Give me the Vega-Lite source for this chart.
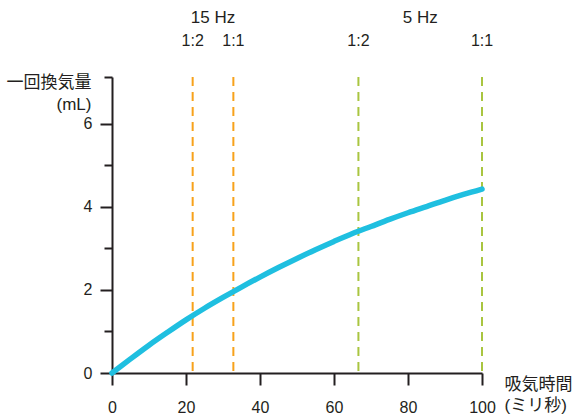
{
  "$schema": "https://vega.github.io/schema/vega-lite/v6.json",
  "width": 370,
  "height": 296,
  "autosize": {"type": "none"},
  "padding": {"left": 112, "top": 77, "right": 91, "bottom": 41},
  "background": "white",
  "config": {
    "view": {"stroke": null},
    "font": "Liberation Sans, Noto Sans CJK JP",
    "axis": {"grid": false}
  },
  "datasets": {
    "curve": [
      {"t": 0, "v": 0}, {"t": 5, "v": 0.34}, {"t": 10, "v": 0.67}, {"t": 15, "v": 0.98},
      {"t": 20, "v": 1.28}, {"t": 25, "v": 1.56}, {"t": 30, "v": 1.82}, {"t": 35, "v": 2.07},
      {"t": 40, "v": 2.31}, {"t": 45, "v": 2.54}, {"t": 50, "v": 2.76}, {"t": 55, "v": 2.97},
      {"t": 60, "v": 3.17}, {"t": 65, "v": 3.36}, {"t": 70, "v": 3.53}, {"t": 75, "v": 3.7},
      {"t": 80, "v": 3.86}, {"t": 85, "v": 4.01}, {"t": 90, "v": 4.16}, {"t": 95, "v": 4.3},
      {"t": 100, "v": 4.43}
    ],
    "lines": [
      {"t": 21.8, "freq": "15 Hz", "ratio": "1:2"},
      {"t": 32.8, "freq": "15 Hz", "ratio": "1:1"},
      {"t": 66.6, "freq": "5 Hz", "ratio": "1:2"},
      {"t": 100, "freq": "5 Hz", "ratio": "1:1"}
    ]
  },
  "layer": [
    {
      "data": {"name": "lines"},
      "mark": {"type": "rule", "strokeWidth": 2, "strokeDash": [9, 6]},
      "encoding": {
        "x": {"field": "t", "type": "quantitative", "scale": {"domain": [0, 100], "nice": false}},
        "color": {"field": "freq", "type": "nominal", "scale": {"domain": ["15 Hz", "5 Hz"], "range": ["#F7A21B", "#A9C540"]}, "legend": null}
      }
    },
    {
      "data": {"name": "curve"},
      "mark": {"type": "line", "color": "#1FBFE0", "strokeWidth": 5.5, "interpolate": "monotone", "strokeCap": "round"},
      "encoding": {
        "x": {
          "field": "t", "type": "quantitative",
          "scale": {"domain": [0, 100], "nice": false},
          "axis": {
            "values": [0, 20, 40, 60, 80, 100],
            "title": ["吸気時間", "(ミリ秒)"],
            "titleFontSize": 17, "titleFontWeight": "normal", "titleColor": "#231F20",
            "titleAlign": "left", "titleBaseline": "middle", "titleAnchor": "start",
            "titleX": 392, "titleY": 11, "titleLineHeight": 21,
            "domainColor": "#231F20", "domainWidth": 2,
            "tickColor": "#231F20", "tickWidth": 2, "tickSize": 12,
            "labelFontSize": 16, "labelColor": "#231F20", "labelPadding": 14, "labelFlush": false
          }
        },
        "y": {
          "field": "v", "type": "quantitative",
          "scale": {"domain": [0, 7.13], "nice": false, "zero": true},
          "axis": {
            "values": [0, 1, 2, 3, 4, 5, 6, 7.13],
            "labelExpr": "datum.value % 2 === 0 ? datum.label : ''",
            "title": ["一回換気量", "(mL)"],
            "titleFontSize": 17, "titleFontWeight": "normal", "titleColor": "#231F20",
            "titleAngle": 0, "titleAlign": "right", "titleBaseline": "middle",
            "titleX": -21, "titleY": 5, "titleLineHeight": 22,
            "domainColor": "#231F20", "domainWidth": 2,
            "tickColor": "#231F20", "tickWidth": 2,
            "tickSize": {"condition": {"test": "datum.value % 2 === 0", "value": 12}, "value": 8},
            "labelFontSize": 16, "labelColor": "#231F20", "labelPadding": 8, "labelFlush": false
          }
        }
      }
    },
    {
      "data": {"name": "lines"},
      "mark": {"type": "text", "fontSize": 16, "color": "#231F20", "baseline": "middle"},
      "encoding": {
        "x": {"field": "t", "type": "quantitative", "scale": {"domain": [0, 100], "nice": false}},
        "y": {"datum": 8.0, "type": "quantitative", "scale": {"domain": [0, 7.13], "nice": false}},
        "text": {"field": "ratio"}
      }
    },
    {
      "data": {"name": "lines"},
      "transform": [{"aggregate": [{"op": "mean", "field": "t", "as": "mid"}], "groupby": ["freq"]}],
      "mark": {"type": "text", "fontSize": 17, "color": "#231F20", "baseline": "middle"},
      "encoding": {
        "x": {"field": "mid", "type": "quantitative", "scale": {"domain": [0, 100], "nice": false}},
        "y": {"datum": 8.56, "type": "quantitative", "scale": {"domain": [0, 7.13], "nice": false}},
        "text": {"field": "freq"}
      }
    }
  ]
}
